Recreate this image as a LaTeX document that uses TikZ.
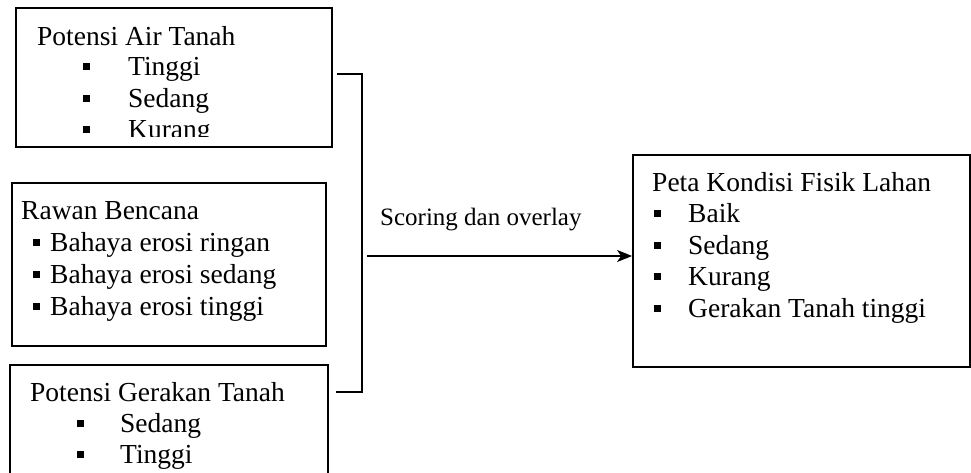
\documentclass[tikz,border=0pt]{standalone}
\usepackage{fontspec}
\setmainfont{Liberation Serif}
\usetikzlibrary{arrows.meta}
\newcommand{\sqbullet}[1]{\makebox[#1][l]{\rule[5.5pt]{7pt}{7pt}}}
\begin{document}
\begin{tikzpicture}[x=1pt,y=-1pt,
  box/.style={draw,line width=1.8pt,rectangle,inner sep=0pt},
  txt/.style={anchor=base west,inner sep=0pt,font=\fontsize{27.5}{31}\selectfont},
  lbl/.style={anchor=base west,inner sep=0pt,font=\fontsize{25}{30}\selectfont},
  wire/.style={line width=1.8pt}]
\clip (0,0) rectangle (971,472);
\fill[white] (0,0) rectangle (971,472);

% input boxes
\node[box,minimum width=316pt,minimum height=139pt] (b1) at (174,77.5) {};
\node[box,minimum width=314pt,minimum height=163pt] (b2) at (169,264.5) {};
\node[box,minimum width=318pt,minimum height=130pt] (b3) at (169,430) {};
% output box
\node[box,minimum width=337pt,minimum height=212pt] (b4) at (801.5,261) {};

% Potensi Air Tanah (text clipped by the box's inner margin)
\begin{scope}
\clip (16,8) rectangle (332,136.5);
\node[txt] (t1) at (37,45) {Potensi Air Tanah};
\node[txt] (t1a) at (83,75) {\sqbullet{45pt}Tinggi};
\node[txt] (t1b) at (83,107) {\sqbullet{45pt}Sedang};
\node[txt] (t1c) at (83,138) {\sqbullet{45pt}Kurang};
\end{scope}

% Rawan Bencana
\node[txt] (t2) at (21,219) {Rawan Bencana};
\node[txt] (t2a) at (33,251) {\sqbullet{17pt}Bahaya erosi ringan};
\node[txt] (t2b) at (33,283) {\sqbullet{17pt}Bahaya erosi sedang};
\node[txt] (t2c) at (33,315) {\sqbullet{17pt}Bahaya erosi tinggi};

% Potensi Gerakan Tanah
\node[txt] (t3) at (30,401) {Potensi Gerakan Tanah};
\node[txt] (t3a) at (77,432) {\sqbullet{43pt}Sedang};
\node[txt] (t3b) at (77,463) {\sqbullet{43pt}Tinggi};

% Peta Kondisi Fisik Lahan
\node[txt] (t4) at (652,191) {Peta Kondisi Fisik Lahan};
\node[txt] (t4a) at (654,222) {\sqbullet{34pt}Baik};
\node[txt] (t4b) at (654,254) {\sqbullet{34pt}Sedang};
\node[txt] (t4c) at (654,285) {\sqbullet{34pt}Kurang};
\node[txt] (t4d) at (654,317) {\sqbullet{34pt}Gerakan Tanah tinggi};

% bracket joining the inputs
\coordinate (jt) at (337,74);
\coordinate (jtc) at (362,74);
\coordinate (jb) at (336,392);
\coordinate (jbc) at (362,392);
\draw[wire] (jt) -- (jtc) -- (jbc) -- (jb);

% arrow to the output map
\coordinate (as) at (367,256);
\draw[wire,-{Stealth[length=15pt,width=12pt,inset=4pt]}] (as) -- (as -| b4.west);
\node[lbl] (sl) at (380,225) {Scoring dan overlay};
\end{tikzpicture}
\end{document}
